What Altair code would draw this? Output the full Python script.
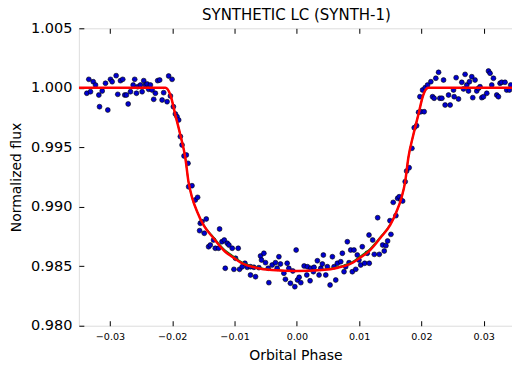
import altair as alt
import pandas as pd

# ---- observed light-curve points (orbital phase, normalized flux) ----
phase = [
    -0.03372, -0.03340, -0.03313, -0.03269, -0.03232, -0.03179, -0.03168, -0.03125, -0.03072, -0.03035,
    -0.02992, -0.02965, -0.02901, -0.02875, -0.02832, -0.02795, -0.02763, -0.02736, -0.02708, -0.02671,
    -0.02628, -0.02603, -0.02575, -0.02554, -0.02511, -0.02484, -0.02458, -0.02431, -0.02404, -0.02378,
    -0.02351, -0.02324, -0.02298, -0.02271, -0.02234, -0.02202, -0.02163, -0.02138, -0.02083, -0.02058,
    -0.02003, -0.02030, -0.01982, -0.01950, -0.01923, -0.01897, -0.01870, -0.01843, -0.01811, -0.01774,
    -0.01747, -0.01737, -0.01683, -0.01630, -0.01593, -0.01550, -0.01522, -0.01454, -0.01561, -0.01486,
    -0.01417, -0.01389, -0.01337, -0.01309, -0.01256, -0.01240, -0.01202, -0.01165, -0.01149, -0.01117,
    -0.01090, -0.01037, -0.00941, -0.01010, -0.00920, -0.00984, -0.00877, -0.00833, -0.00796, -0.00744,
    -0.00689, -0.00744, -0.00663, -0.00609, -0.00583, -0.00529, -0.00567, -0.00503, -0.00460, -0.00449,
    -0.00396, -0.00343, -0.00316, -0.00288, -0.00263, -0.00208, -0.00183, -0.00155, -0.00128, -0.00103,
    -0.00064, -0.00032, -0.00011, 0.00010, 0.00037, 0.00064, 0.00117, 0.00170, 0.00224, 0.00277,
    0.00330, 0.00385, 0.00426, 0.00160, 0.00213, 0.00266, 0.00357, 0.00410, 0.00465, 0.00490,
    0.00534, 0.00571, 0.00598, 0.00625, 0.00651, 0.00705, 0.00731, 0.00758, 0.00785, 0.00811,
    0.00838, 0.00865, 0.00891, 0.00918, 0.00946, 0.00971, 0.00998, 0.01026, 0.01051, 0.01090,
    0.01131, 0.01159, 0.01163, 0.01218, 0.01244, 0.01298, 0.01324, 0.01378, 0.01404, 0.01431,
    0.01458, 0.01495, 0.01511, 0.01548, 0.01591, 0.01619, 0.01644, 0.01671, 0.01699, 0.01740,
    0.01763, 0.01804, 0.01848, 0.01885, 0.01923, 0.01955, 0.01992, 0.02045, 0.01976, 0.02019,
    0.02061, 0.02099, 0.02152, 0.02179, 0.02205, 0.02232, 0.02276, 0.02296, 0.02356, 0.02329,
    0.02381, 0.02462, 0.02436, 0.02516, 0.02558, 0.02526, 0.02596, 0.02649, 0.02676, 0.02702,
    0.02729, 0.02772, 0.02756, 0.02809, 0.02825, 0.02862, 0.02889, 0.02917, 0.02942, 0.02970,
    0.02997, 0.03050, 0.03077, 0.03103, 0.03130, 0.03157, 0.03210, 0.03237, 0.03263, 0.03290,
    0.03343, 0.03370, 0.03413, 0.03434,
]
flux = [
    0.99954, 1.00071, 0.99967, 1.00051, 1.00023, 0.99939, 0.99841, 0.99973, 1.00038, 0.99813,
    1.00071, 1.00051, 1.00102, 0.99945, 1.00060, 1.00071, 0.99939, 0.99939, 0.99864, 0.99967,
    1.00023, 1.00071, 0.99954, 1.00009, 1.00023, 0.99967, 1.00060, 1.00023, 1.00032, 0.99987,
    1.00023, 0.99981, 0.99903, 0.99954, 1.00060, 1.00065, 0.99897, 0.99959, 0.99883, 1.00099,
    1.00071, 0.99931, 0.99841, 0.99780, 0.99757, 0.99729, 0.99590, 0.99519, 0.99427, 0.99435,
    0.99365, 0.99168, 0.99177, 0.99057, 0.99079, 0.98861, 0.98874, 0.98897, 0.98799, 0.98777,
    0.98664, 0.98678, 0.98720, 0.98651, 0.98651, 0.98813, 0.98706, 0.98720, 0.98483, 0.98693,
    0.98678, 0.98651, 0.98651, 0.98474, 0.98474, 0.98567, 0.98496, 0.98525, 0.98491, 0.98496,
    0.98491, 0.98426, 0.98412, 0.98488, 0.98586, 0.98609, 0.98552, 0.98530, 0.98483, 0.98362,
    0.98510, 0.98530, 0.98483, 0.98580, 0.98519, 0.98441, 0.98390, 0.98525, 0.98483, 0.98357,
    0.98460, 0.98328, 0.98636, 0.98384, 0.98407, 0.98362, 0.98502, 0.98496, 0.98483, 0.98491,
    0.98546, 0.98483, 0.98594, 0.98426, 0.98378, 0.98454, 0.98426, 0.98519, 0.98426, 0.98496,
    0.98342, 0.98580, 0.98496, 0.98384, 0.98525, 0.98538, 0.98609, 0.98454, 0.98496, 0.98706,
    0.98530, 0.98636, 0.98454, 0.98636, 0.98474, 0.98594, 0.98552, 0.98510, 0.98664, 0.98525,
    0.98609, 0.98762, 0.98525, 0.98720, 0.98600, 0.98908, 0.98600, 0.98678, 0.98628, 0.98673,
    0.98712, 0.98883, 0.98768, 0.99037, 0.98925, 0.99071, 0.99084, 0.99057, 0.99048, 0.99211,
    0.99300, 0.99328, 0.99491, 0.99664, 0.99681, 0.99794, 0.99799, 0.99799, 0.99925, 0.99981,
    1.00001, 1.00023, 1.00051, 0.99925, 0.99912, 1.00080, 1.00130, 0.99912, 1.00065, 0.99912,
    0.99855, 0.99855, 0.99939, 0.99981, 1.00085, 0.99925, 0.99906, 1.00046, 0.99990, 1.00113,
    1.00023, 1.00051, 0.99973, 1.00093, 0.99917, 1.00065, 0.99973, 0.99996, 1.00009, 0.99917,
    0.99925, 0.99954, 1.00141, 1.00122, 1.00023, 1.00080, 0.99939, 0.99925, 1.00038, 1.00046,
    1.00046, 0.99981, 0.99981, 1.00023,
]

# ---- transit models ----
model_phase = [
    -0.0350, -0.0211, -0.0203, -0.0195, -0.0187, -0.0179, -0.0174, -0.0168, -0.0160, -0.0150,
    -0.0134, -0.0115, -0.0104, -0.0088, -0.0066, -0.0040, 0.0000, 0.0040, 0.0066, 0.0088,
    0.0104, 0.0115, 0.0134, 0.0150, 0.0160, 0.0168, 0.0174, 0.0179, 0.0187, 0.0195,
    0.0203, 0.0211, 0.0350,
]
model_flux = [
    1.00000, 1.00000, 0.99939, 0.99771, 0.99603, 0.99410, 0.99211, 0.99074, 0.98958, 0.98847,
    0.98737, 0.98622, 0.98580, 0.98525, 0.98488, 0.98468, 0.98460, 0.98468, 0.98488, 0.98525,
    0.98580, 0.98622, 0.98737, 0.98847, 0.98958, 0.99074, 0.99211, 0.99410, 0.99603, 0.99771,
    0.99939, 1.00000, 1.00000,
]
alt_model_flux = [
    1.00000, 1.00000, 0.99939, 0.99771, 0.99603, 0.99410, 0.99211, 0.99074, 0.98958, 0.98851,
    0.98746, 0.98634, 0.98592, 0.98534, 0.98493, 0.98470, 0.98460, 0.98470, 0.98493, 0.98534,
    0.98592, 0.98634, 0.98746, 0.98851, 0.98958, 0.99074, 0.99211, 0.99410, 0.99603, 0.99771,
    0.99939, 1.00000, 1.00000,
]

x_ticks = [-0.03, -0.02, -0.01, 0.0, 0.01, 0.02, 0.03]
y_ticks = [0.980, 0.985, 0.990, 0.995, 1.000, 1.005]

W, H = 434, 298
XDOM = [-0.035, 0.03455]
YDOM = [0.980, 1.005]
FONT = "DejaVu Sans"

pts = pd.DataFrame({"phase": phase, "flux": flux})
mdl = pd.DataFrame({"phase": model_phase, "flux": model_flux, "alt": alt_model_flux})

xs = alt.Scale(domain=XDOM, nice=False, zero=False)
ys = alt.Scale(domain=YDOM, nice=False, zero=False)

points = alt.Chart(pts).mark_circle(
    size=24, fill="#0000d0", stroke="black", strokeWidth=0.6, opacity=1, clip=True
).encode(
    x=alt.X("phase:Q", scale=xs, axis=alt.Axis(
        values=x_ticks, format=".2f", title="Orbital Phase", ticks=False, tickSize=0,
        domain=False, grid=False, labelFontSize=9.6, labelPadding=6, titleFontSize=14,
        titlePadding=7, labelColor="black", titleColor="black", titleFontWeight="normal",
        labelOverlap=False, labelFlush=False, labelFont=FONT, titleFont=FONT)),
    y=alt.Y("flux:Q", scale=ys, axis=alt.Axis(
        values=y_ticks, format=".3f", title="Normalized flux", ticks=False, tickSize=0,
        domain=False, grid=False, labelFontSize=14.5, labelPadding=7, titleFontSize=14,
        titlePadding=7, labelColor="black", titleColor="black", titleFontWeight="normal",
        labelOverlap=False, labelFlush=False, labelFont=FONT, titleFont=FONT)),
)

green = alt.Chart(mdl).mark_line(color="#008000", strokeWidth=1.5, clip=True, interpolate="monotone").encode(
    x=alt.X("phase:Q", scale=xs, axis=None),
    y=alt.Y("alt:Q", scale=ys, axis=None),
)
red = alt.Chart(mdl).mark_line(color="#ff0000", strokeWidth=2.5, clip=True, interpolate="monotone").encode(
    x=alt.X("phase:Q", scale=xs, axis=None),
    y=alt.Y("flux:Q", scale=ys, axis=None),
)

# inward-pointing ticks on bottom and left spines
ticks_a = alt.Chart(mdl).mark_point(opacity=0).encode(
    x=alt.X("phase:Q", scale=xs, axis=alt.Axis(
        orient="top", offset=-H, values=x_ticks, labels=False, domain=False, grid=False,
        ticks=True, tickSize=5, tickColor="black", tickWidth=1, title=None)),
    y=alt.Y("flux:Q", scale=ys, axis=alt.Axis(
        orient="right", offset=-W, values=y_ticks, labels=False, domain=False, grid=False,
        ticks=True, tickSize=5, tickColor="black", tickWidth=1, title=None)),
)
# inward-pointing ticks on top spine
ticks_b = alt.Chart(mdl).mark_point(opacity=0).encode(
    x=alt.X("phase:Q", scale=xs, axis=alt.Axis(
        orient="bottom", offset=-H, values=x_ticks, labels=False, domain=False, grid=False,
        ticks=True, tickSize=5, tickColor="black", tickWidth=1, title=None)),
    y=alt.Y("flux:Q", scale=ys, axis=None),
)

chart = alt.layer(points, green, red, ticks_a, ticks_b).resolve_scale(
    x="independent", y="independent"
).properties(
    width=W,
    height=H,
    title=alt.TitleParams(
        "SYNTHETIC LC (SYNTH-1)", fontSize=15, font=FONT, fontWeight="normal",
        anchor="middle", frame="group", offset=7, baseline="alphabetic", color="black",
        dx=1, dy=22,
    ),
    autosize=alt.AutoSizeParams(type="none"),
    padding={"left": 79, "top": 28, "right": 0, "bottom": 39},
).configure_view(
    stroke="black", strokeWidth=1
).configure(
    font=FONT, background="white"
)

chart.save("out.html", embed_options={"renderer": "svg", "actions": False})
